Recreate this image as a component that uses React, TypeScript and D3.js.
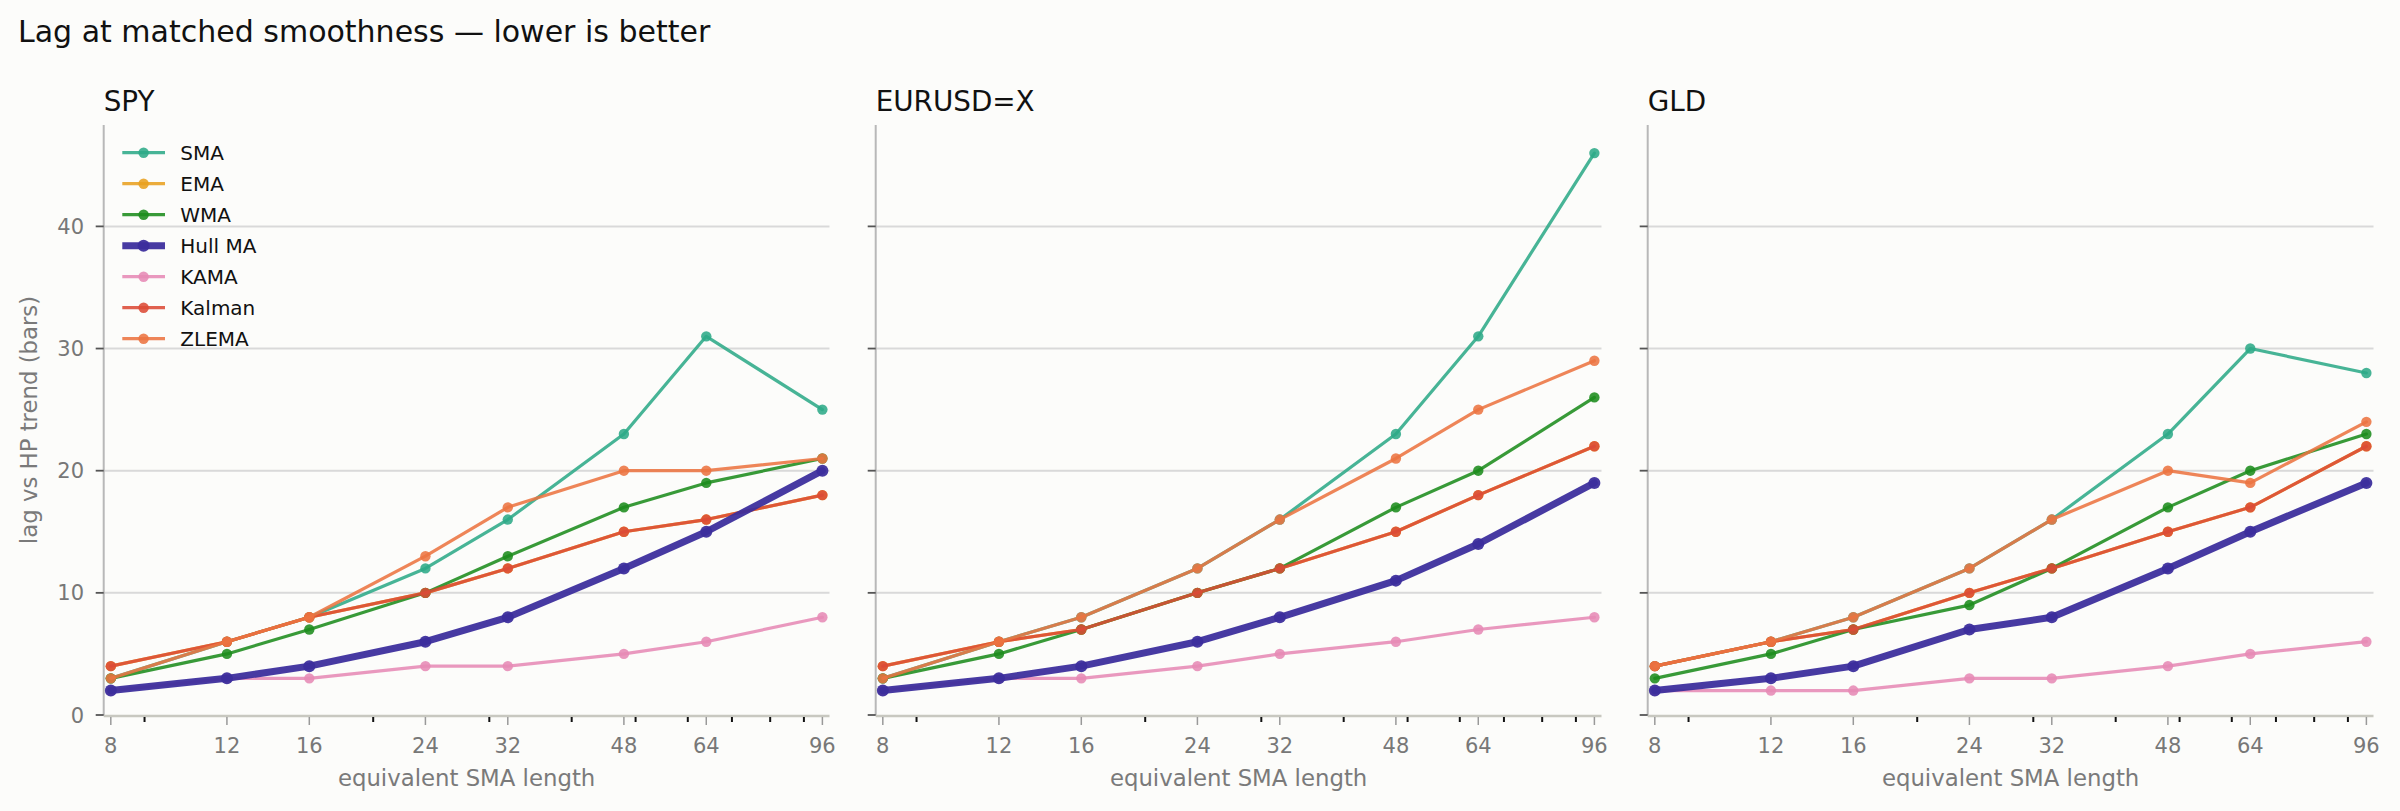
import * as d3 from 'd3';

const LENGTHS = [8, 12, 16, 24, 32, 48, 64, 96];
const MINOR_TICKS = [9, 20, 30, 40, 50, 60, 70, 80, 90];
const Y_TICKS = [0, 10, 20, 30, 40];
const PANELS = ['SPY', 'EURUSD=X', 'GLD'];
const METHODS = ['SMA', 'EMA', 'WMA', 'Hull MA', 'KAMA', 'Kalman', 'ZLEMA'];
const COLORS = ['#2eaa88', '#e8a020', '#1c8c1c', '#3c2e9c', '#e68ab5', '#dc4b37', '#ec7441'];

// lag in bars, one array per method, per ticker
const spySMA = [3, 6, 8, 12, 16, 23, 31, 25];
const spyEMA = [4, 6, 8, 10, 12, 15, 16, 18];
const spyWMA = [3, 5, 7, 10, 13, 17, 19, 21];
const spyHull = [2, 3, 4, 6, 8, 12, 15, 20];
const spyKAMA = [2, 3, 3, 4, 4, 5, 6, 8];
const spyKalman = [4, 6, 8, 10, 12, 15, 16, 18];
const spyZLEMA = [3, 6, 8, 13, 17, 20, 20, 21];

const eurSMA = [3, 6, 8, 12, 16, 23, 31, 46];
const eurEMA = [4, 6, 7, 10, 12, 15, 18, 22];
const eurWMA = [3, 5, 7, 10, 12, 17, 20, 26];
const eurHull = [2, 3, 4, 6, 8, 11, 14, 19];
const eurKAMA = [2, 3, 3, 4, 5, 6, 7, 8];
const eurKalman = [4, 6, 7, 10, 12, 15, 18, 22];
const eurZLEMA = [3, 6, 8, 12, 16, 21, 25, 29];

const gldSMA = [4, 6, 8, 12, 16, 23, 30, 28];
const gldEMA = [4, 6, 7, 10, 12, 15, 17, 22];
const gldWMA = [3, 5, 7, 9, 12, 17, 20, 23];
const gldHull = [2, 3, 4, 7, 8, 12, 15, 19];
const gldKAMA = [2, 2, 2, 3, 3, 4, 5, 6];
const gldKalman = [4, 6, 7, 10, 12, 15, 17, 22];
const gldZLEMA = [4, 6, 8, 12, 16, 20, 19, 24];

const SERIES = [
  [spySMA, spyEMA, spyWMA, spyHull, spyKAMA, spyKalman, spyZLEMA],
  [eurSMA, eurEMA, eurWMA, eurHull, eurKAMA, eurKalman, eurZLEMA],
  [gldSMA, gldEMA, gldWMA, gldHull, gldKAMA, gldKalman, gldZLEMA],
];

const W = 2400;
const H = 811;
const FONT = '"DejaVu Sans", Verdana, sans-serif';
const PANEL_LEFT = [103.7, 875.7, 1647.7];
const PANEL_W = 725.8;
const TOP = 125;
const PLOT_H = 590;
const HULL = 3;

function Panel({ idx }: { idx: number }) {
  const pad = Math.exp(0.01 * Math.log(96 / 8));
  const x = d3.scaleLog().domain([8 / pad, 96 * pad]).range([0, PANEL_W]);
  const y = d3.scaleLinear().domain([0, 48.3]).range([PLOT_H, 0]);
  const line = d3.line<number>().x((_, i) => x(LENGTHS[i])).y((d) => y(d));
  // Hull MA drawn last so it sits on top
  const order = [0, 1, 2, 4, 5, 6, HULL];

  return (
    <g transform={`translate(${PANEL_LEFT[idx]},${TOP})`}>
      <text x={0} y={-14.3} fontSize={27.8} fill="#111">{PANELS[idx]}</text>

      {Y_TICKS.filter((t) => t > 0).map((t) => (
        <line key={t} x1={0} x2={PANEL_W} y1={y(t)} y2={y(t)} stroke="#d9d9d9" strokeWidth={2} />
      ))}

      {order.map((m) => {
        const data = SERIES[idx][m];
        const hull = m === HULL;
        const op = hull ? 0.94 : 0.88;
        return (
          <g key={m}>
            <path d={line(data) ?? ''} fill="none" stroke={COLORS[m]} strokeOpacity={op}
              strokeWidth={hull ? 7 : 3.2} strokeLinejoin="round" strokeLinecap="round" />
            {data.map((d, i) => (
              <circle key={i} cx={x(LENGTHS[i])} cy={y(d)} r={hull ? 6 : 5.2}
                fill={COLORS[m]} fillOpacity={op} />
            ))}
          </g>
        );
      })}

      {/* spines */}
      <line x1={0} x2={0} y1={0} y2={PLOT_H} stroke="#b8b8b8" strokeWidth={2} />
      <line x1={0} x2={PANEL_W} y1={PLOT_H + 1} y2={PLOT_H + 1} stroke="#c8c8c0" strokeWidth={2.5} />

      {Y_TICKS.map((t) => (
        <g key={t}>
          <line x1={-8} x2={0} y1={y(t)} y2={y(t)} stroke="#555" strokeWidth={1.8} />
          {idx === 0 && (
            <text x={-19.7} y={y(t)} dy="0.36em" textAnchor="end" fontSize={21} fill="#777">{t}</text>
          )}
        </g>
      ))}

      {LENGTHS.map((t) => (
        <g key={t}>
          <line x1={x(t)} x2={x(t)} y1={PLOT_H + 2} y2={PLOT_H + 10} stroke="#999" strokeWidth={1.5} />
          <text x={x(t)} y={PLOT_H + 38} textAnchor="middle" fontSize={21} fill="#777">{t}</text>
        </g>
      ))}
      {MINOR_TICKS.map((t) => (
        <line key={t} x1={x(t)} x2={x(t)} y1={PLOT_H + 2} y2={PLOT_H + 7} stroke="#111" strokeWidth={2} />
      ))}

      <text x={PANEL_W / 2} y={PLOT_H + 71} textAnchor="middle" fontSize={22.8} fill="#7a7a7a">
        equivalent SMA length
      </text>

      {idx === 0 && (
        <g transform="translate(18.6,27.7)">
          {METHODS.map((name, m) => {
            const hull = m === HULL;
            const op = hull ? 0.94 : 0.88;
            return (
              <g key={name} transform={`translate(0,${m * 31})`}>
                <line x1={0} x2={42.7} y1={0} y2={0} stroke={COLORS[m]} strokeOpacity={op}
                  strokeWidth={hull ? 7 : 3.2} />
                <circle cx={21.3} cy={0} r={hull ? 6 : 5.2} fill={COLORS[m]} fillOpacity={op} />
                <text x={58} y={0} dy="0.36em" fontSize={20} fill="#111">{name}</text>
              </g>
            );
          })}
        </g>
      )}
    </g>
  );
}

export default function App() {
  return (
    <svg width={W} height={H} viewBox={`0 0 ${W} ${H}`}
      style={{ position: 'absolute', left: 0, top: 0, background: '#fcfcfa' }}
      fontFamily={FONT}>
      <rect width={W} height={H} fill="#fcfcfa" />
      <text x={18} y={42.3} fontSize={30} fill="#111">Lag at matched smoothness — lower is better</text>
      <text transform={`translate(37,${TOP + PLOT_H / 2}) rotate(-90)`} textAnchor="middle"
        fontSize={22.8} fill="#7a7a7a">lag vs HP trend (bars)</text>
      {PANELS.map((_, i) => (
        <Panel key={i} idx={i} />
      ))}
    </svg>
  );
}
